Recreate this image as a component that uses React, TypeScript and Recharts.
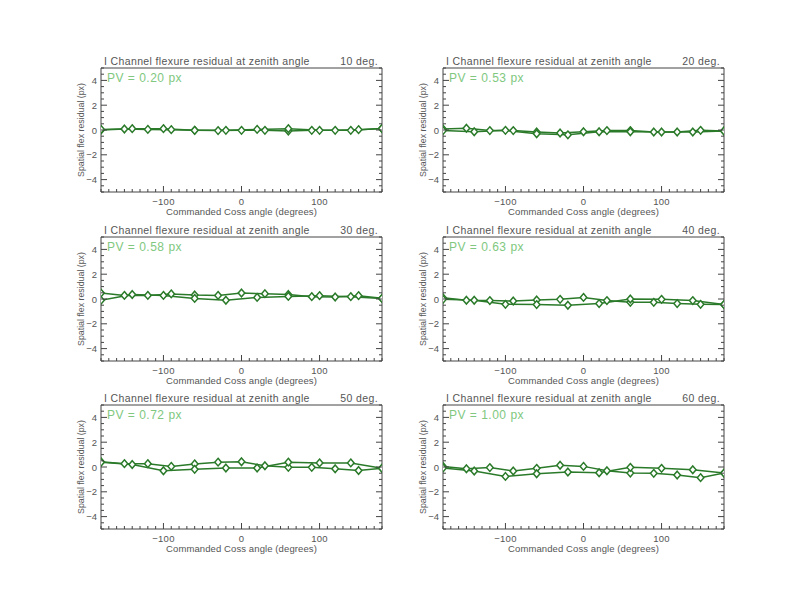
import { LineChart, Line, XAxis, YAxis } from "recharts";

// two sweeps of the Cass rotator: 30 deg steps and 40 deg steps
const ANGLES_A = [-180, -150, -120, -90, -60, -30, 0, 30, 60, 90, 120, 150, 180];
const ANGLES_B = [-180, -140, -100, -60, -20, 20, 60, 100, 140, 180];

const ZENITH = ["10", "20", "30", "40", "50", "60"];
const PV = ["0.20", "0.53", "0.58", "0.63", "0.72", "1.00"];

const RESID_A_10 = [0, 0.08, 0.05, 0.03, -0.03, -0.05, -0.03, -0.03, -0.08, -0.03, -0.03, 0.03, 0.12];
const RESID_B_10 = [0.05, 0.11, 0.11, -0.03, -0.03, 0.05, 0.11, -0.03, -0.03, 0.12];
const RESID_A_20 = [0.08, 0.14, -0.05, -0.05, -0.16, -0.24, -0.14, -0.05, -0.05, -0.16, -0.16, -0.03, -0.08];
const RESID_B_20 = [-0.05, -0.14, -0.03, -0.3, -0.39, -0.14, -0.14, -0.16, -0.16, -0.08];
const RESID_A_30 = [0.48, 0.29, 0.29, 0.41, 0.32, 0.29, 0.48, 0.43, 0.36, 0.19, 0.16, 0.27, 0.05];
const RESID_B_30 = [-0.1, 0.36, 0.29, 0.05, -0.1, 0.13, 0.21, 0.27, 0.19, 0.05];
const RESID_A_40 = [0.1, -0.1, -0.13, -0.16, -0.08, -0.03, 0.13, -0.13, -0.27, -0.27, -0.37, -0.43, -0.45];
const RESID_B_40 = [-0.03, -0.1, -0.43, -0.45, -0.5, -0.37, 0, -0.03, -0.13, -0.45];
const RESID_A_50 = [0.42, 0.27, 0.27, 0.05, 0.25, 0.39, 0.42, 0.1, -0.03, -0.03, -0.14, -0.28, -0.1];
const RESID_B_50 = [0.38, 0.2, -0.3, -0.19, -0.08, -0.08, 0.39, 0.33, 0.33, -0.1];
const RESID_A_60 = [0.05, -0.14, -0.05, -0.32, -0.11, 0.14, 0.05, -0.3, -0.49, -0.51, -0.65, -0.86, -0.49];
const RESID_B_60 = [-0.08, -0.32, -0.76, -0.54, -0.4, -0.46, -0.03, -0.11, -0.22, -0.49];

const RESID_A = [RESID_A_10, RESID_A_20, RESID_A_30, RESID_A_40, RESID_A_50, RESID_A_60];
const RESID_B = [RESID_B_10, RESID_B_20, RESID_B_30, RESID_B_40, RESID_B_50, RESID_B_60];

const X_MAJOR = [-100, 0, 100];
const Y_MAJOR = [-4, -2, 0, 2, 4];
const X_TICKS = Array.from({ length: 37 }, (_, i) => -180 + i * 10);
const Y_TICKS = Array.from({ length: 21 }, (_, i) => -5 + i * 0.5);

const AXIS = "#444";
const TEXT = "#555";
const LINE = "#2a7a2a";
const PV_COLOR = "#80c880";
const FONT = "'Liberation Sans', Arial, sans-serif";

const PLOT_W = 281;
const PLOT_H = 124;
const AX_L = 45;
const AX_R = 4;
const AX_T = 18;
const AX_B = 33;
const CHART_W = AX_L + PLOT_W + AX_R;
const CHART_H = AX_T + PLOT_H + AX_B;

const COL_X = [56, 398];
const ROW_Y = [50, 219, 387];

const isMajorX = (v: number) => X_MAJOR.includes(v);
const isMajorY = (v: number) => Y_MAJOR.includes(v);
const fmt = (v: number) => (v < 0 ? "\u2212" + Math.abs(v) : String(v));

function BottomTick({ x, y, payload }: any) {
  const v = payload.value;
  const major = isMajorX(v);
  return (
    <g>
      <line x1={x} x2={x} y1={y} y2={y - (major ? 6 : 3)} stroke={AXIS} />
      {major && (
        <text x={x} y={y + 13} textAnchor="middle" fontSize={9.5} fill={TEXT} fontFamily={FONT} letterSpacing={0.3}>
          {fmt(v)}
        </text>
      )}
    </g>
  );
}

function TopTick({ x, y, payload }: any) {
  const major = isMajorX(payload.value);
  return <line x1={x} x2={x} y1={y} y2={y + (major ? 6 : 3)} stroke={AXIS} />;
}

function LeftTick({ x, y, payload }: any) {
  const v = payload.value;
  const major = isMajorY(v);
  return (
    <g>
      <line x1={x} x2={x + (major ? 6 : 3)} y1={y} y2={y} stroke={AXIS} />
      {major && (
        <text x={x - 4} y={y + 3.5} textAnchor="end" fontSize={9.5} fill={TEXT} fontFamily={FONT}>
          {fmt(v)}
        </text>
      )}
    </g>
  );
}

function RightTick({ x, y, payload }: any) {
  const major = isMajorY(payload.value);
  return <line x1={x} x2={x - (major ? 6 : 3)} y1={y} y2={y} stroke={AXIS} />;
}

function Diamond({ cx, cy }: any) {
  if (cx == null || cy == null) return null;
  const w = 3.3;
  const h = 3.8;
  return (
    <polygon
      points={`${cx},${cy - h} ${cx + w},${cy} ${cx},${cy + h} ${cx - w},${cy}`}
      fill="#fff"
      stroke={LINE}
      strokeWidth={1.5}
    />
  );
}

function Panel({ idx }: { idx: number }) {
  const left = COL_X[idx % 2];
  const top = ROW_Y[Math.floor(idx / 2)];
  const sweepA = ANGLES_A.map((x, i) => ({ x, y: RESID_A[idx][i] }));
  const sweepB = ANGLES_B.map((x, i) => ({ x, y: RESID_B[idx][i] }));

  return (
    <div style={{ position: "absolute", left, top, width: CHART_W, height: CHART_H, fontFamily: FONT }}>
      <LineChart width={CHART_W} height={CHART_H} margin={{ top: 0, right: 0, bottom: 0, left: 0 }}>
        <XAxis
          type="number"
          dataKey="x"
          domain={[-180, 180]}
          ticks={X_TICKS}
          interval={0}
          height={AX_B}
          tickSize={0}
          tickMargin={0}
          tick={<BottomTick />}
          tickLine={false}
          axisLine={{ stroke: AXIS }}
          allowDataOverflow
        />
        <XAxis
          xAxisId="top"
          orientation="top"
          type="number"
          domain={[-180, 180]}
          ticks={X_TICKS}
          interval={0}
          height={AX_T}
          tickSize={0}
          tickMargin={0}
          tick={<TopTick />}
          tickLine={false}
          axisLine={{ stroke: AXIS }}
          allowDataOverflow
        />
        <YAxis
          type="number"
          domain={[-5, 5]}
          ticks={Y_TICKS}
          interval={0}
          width={AX_L}
          tickSize={0}
          tickMargin={0}
          tick={<LeftTick />}
          tickLine={false}
          axisLine={{ stroke: AXIS }}
          allowDataOverflow
        />
        <YAxis
          yAxisId="right"
          orientation="right"
          type="number"
          domain={[-5, 5]}
          ticks={Y_TICKS}
          interval={0}
          width={AX_R}
          tickSize={0}
          tickMargin={0}
          tick={<RightTick />}
          tickLine={false}
          axisLine={{ stroke: AXIS }}
          allowDataOverflow
        />
        <Line
          data={sweepA}
          dataKey="y"
          stroke={LINE}
          strokeWidth={1.5}
          dot={(p: any) => <Diamond key={`a${p.index}`} {...p} />}
          isAnimationActive={false}
        />
        <Line
          data={sweepB}
          dataKey="y"
          stroke={LINE}
          strokeWidth={1.5}
          dot={(p: any) => <Diamond key={`b${p.index}`} {...p} />}
          isAnimationActive={false}
        />
      </LineChart>

      <div style={{ position: "absolute", left: AX_L + 3, top: 6, fontSize: 10.5, lineHeight: "11px", color: TEXT, letterSpacing: 0.37, whiteSpace: "nowrap" }}>
        I Channel flexure residual at zenith angle
      </div>
      <div style={{ position: "absolute", right: AX_R + 4, top: 6, fontSize: 10.5, lineHeight: "11px", color: TEXT, letterSpacing: 0.37, whiteSpace: "nowrap" }}>
        {ZENITH[idx]} deg.
      </div>
      <div style={{ position: "absolute", left: AX_L + 6, top: AX_T + 4, fontSize: 12, lineHeight: "13px", color: PV_COLOR, letterSpacing: 0.5, whiteSpace: "nowrap" }}>
        PV = {PV[idx]} px
      </div>
      <div
        style={{
          position: "absolute",
          left: AX_L + PLOT_W / 2 - 100,
          width: 200,
          top: AX_T + PLOT_H + 14,
          fontSize: 9.5,
          lineHeight: "11px",
          color: TEXT,
          letterSpacing: 0.1,
          textAlign: "center",
          whiteSpace: "nowrap",
        }}
      >
        Commanded Coss angle (degrees)
      </div>
      <div
        style={{
          position: "absolute",
          left: 25 - 80,
          width: 160,
          top: AX_T + PLOT_H / 2 - 5,
          fontSize: 8.8,
          lineHeight: "10px",
          color: TEXT,
          textAlign: "center",
          whiteSpace: "nowrap",
          transform: "rotate(-90deg)",
        }}
      >
        Spatial flex residual (px)
      </div>
    </div>
  );
}

export default function App() {
  return (
    <div style={{ position: "absolute", left: 0, top: 0, width: 792, height: 612, background: "#fff", overflow: "hidden" }}>
      {ZENITH.map((_, i) => (
        <Panel key={i} idx={i} />
      ))}
    </div>
  );
}
